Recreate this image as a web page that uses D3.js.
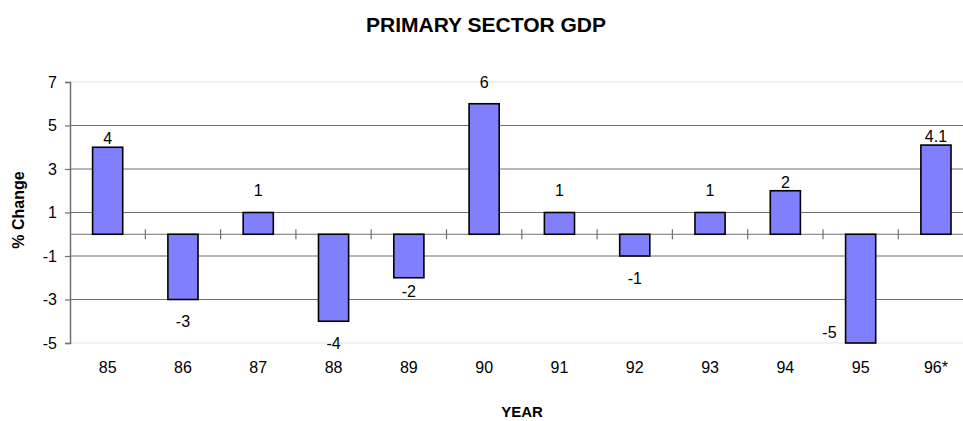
<!DOCTYPE html>
<html>
<head>
<meta charset="utf-8">
<script src="https://cdn.jsdelivr.net/npm/d3@7"></script>
<style>
  body { margin: 0; background: #fff; }
  svg text { font-family: "Liberation Sans", Arial, sans-serif; fill: #000; }
</style>
</head>
<body>
<script>
const years = ["85","86","87","88","89","90","91","92","93","94","95","96*"];
const changes = [4, -3, 1, -4, -2, 6, 1, -1, 1, 2, -5, 4.1];
const yTicks = [-5, -3, -1, 1, 3, 5, 7];

const width = 963, height = 421;
const margin = {top: 82, left: 70, bottom: 78};

const svg = d3.select("body").append("svg")
  .attr("width", width)
  .attr("height", height);

// band of 75.3px per year, plot runs off the right edge like the original
const xScale = d3.scaleBand()
  .domain(years)
  .range([margin.left, margin.left + 12 * 75.3])
  .paddingInner(0.6)
  .paddingOuter(0.3);

const yScale = d3.scaleLinear()
  .domain([-5, 7])
  .range([height - margin.bottom, margin.top]);

const y0 = yScale(0);

// gridlines: inner dark, outer (plot edge) light
svg.append("g").selectAll("line")
  .data(yTicks)
  .enter().append("line")
  .attr("x1", margin.left)
  .attr("x2", width)
  .attr("y1", d => yScale(d))
  .attr("y2", d => yScale(d))
  .attr("stroke", d => (d === -5 || d === 7) ? "#e4e4e4" : "#707070")
  .attr("stroke-width", 1.2);

// y axis (plain hyphen for negatives)
const yAxis = d3.axisLeft(yScale).tickValues(yTicks).tickSize(5).tickPadding(8).tickFormat(d => String(d));
const gy = svg.append("g")
  .attr("transform", `translate(${margin.left},0)`)
  .call(yAxis);
gy.select(".domain").attr("stroke", "#707070").attr("stroke-width", 1.5);
gy.selectAll(".tick line").attr("stroke", "#707070").attr("stroke-width", 1.2);
gy.selectAll(".tick text")
  .style("font-size", "16px")
  .style("font-family", "Liberation Sans, Arial, sans-serif");

// zero line with tick marks at the category boundaries
svg.append("line")
  .attr("x1", margin.left).attr("x2", width)
  .attr("y1", y0).attr("y2", y0)
  .attr("stroke", "#707070").attr("stroke-width", 1.2);

const step = xScale.step();
const bounds = years.map((d, i) => xScale(d) + xScale.bandwidth() / 2 + step / 2);
svg.append("g").selectAll("line")
  .data(bounds)
  .enter().append("line")
  .attr("x1", d => d).attr("x2", d => d)
  .attr("y1", y0 - 5).attr("y2", y0 + 5)
  .attr("stroke", "#707070").attr("stroke-width", 1.2);

// category labels sit below the plot
svg.append("g").selectAll("text")
  .data(years)
  .enter().append("text")
  .attr("x", d => xScale(d) + xScale.bandwidth() / 2)
  .attr("y", yScale(-5) + 30)
  .attr("text-anchor", "middle")
  .style("font-size", "16px")
  .text(d => d);

// bars
svg.append("g").selectAll("rect")
  .data(changes)
  .enter().append("rect")
  .attr("x", (d, i) => xScale(years[i]))
  .attr("y", d => yScale(Math.max(0, d)))
  .attr("width", xScale.bandwidth())
  .attr("height", d => Math.abs(yScale(d) - y0))
  .attr("fill", "#8080ff")
  .attr("stroke", "#000")
  .attr("stroke-width", 1.6);

// value labels: 22px past the bar end, pulled in if that hits a gridline,
// moved beside the bar if it would fall outside the plot
const innerGrid = yTicks.filter(t => t !== -5 && t !== 7).map(t => yScale(t));
function labelPos(d, i) {
  const end = yScale(d);
  const cx = xScale(years[i]) + xScale.bandwidth() / 2;
  const dir = d >= 0 ? -1 : 1;
  let cy = end + dir * 22;
  if (cy > yScale(-5) + 2 || cy < yScale(7) - 14) {
    return {x: xScale(years[i]) - 9, y: end - 11, anchor: "end"};
  }
  if (innerGrid.some(g => Math.abs(g - cy) < 3)) {
    cy = end + dir * (d >= 0 ? 9 : 13);
  }
  return {x: cx, y: cy, anchor: "middle"};
}

svg.append("g").selectAll("text")
  .data(changes)
  .enter().append("text")
  .each(function(d, i) {
    const p = labelPos(d, i);
    d3.select(this)
      .attr("x", p.x)
      .attr("y", p.y)
      .attr("dy", "0.36em")
      .attr("text-anchor", p.anchor);
  })
  .style("font-size", "16px")
  .text(d => String(d));

// titles
svg.append("text")
  .attr("x", 486)
  .attr("y", 32)
  .attr("text-anchor", "middle")
  .style("font-size", "21px")
  .style("font-weight", "bold")
  .text("PRIMARY SECTOR GDP");

svg.append("text")
  .attr("x", 522)
  .attr("y", 417)
  .attr("text-anchor", "middle")
  .style("font-size", "15px")
  .style("font-weight", "bold")
  .text("YEAR");

svg.append("text")
  .attr("transform", `translate(24,210) rotate(-90)`)
  .attr("text-anchor", "middle")
  .style("font-size", "16px")
  .style("font-weight", "bold")
  .text("% Change");
</script>
</body>
</html>
